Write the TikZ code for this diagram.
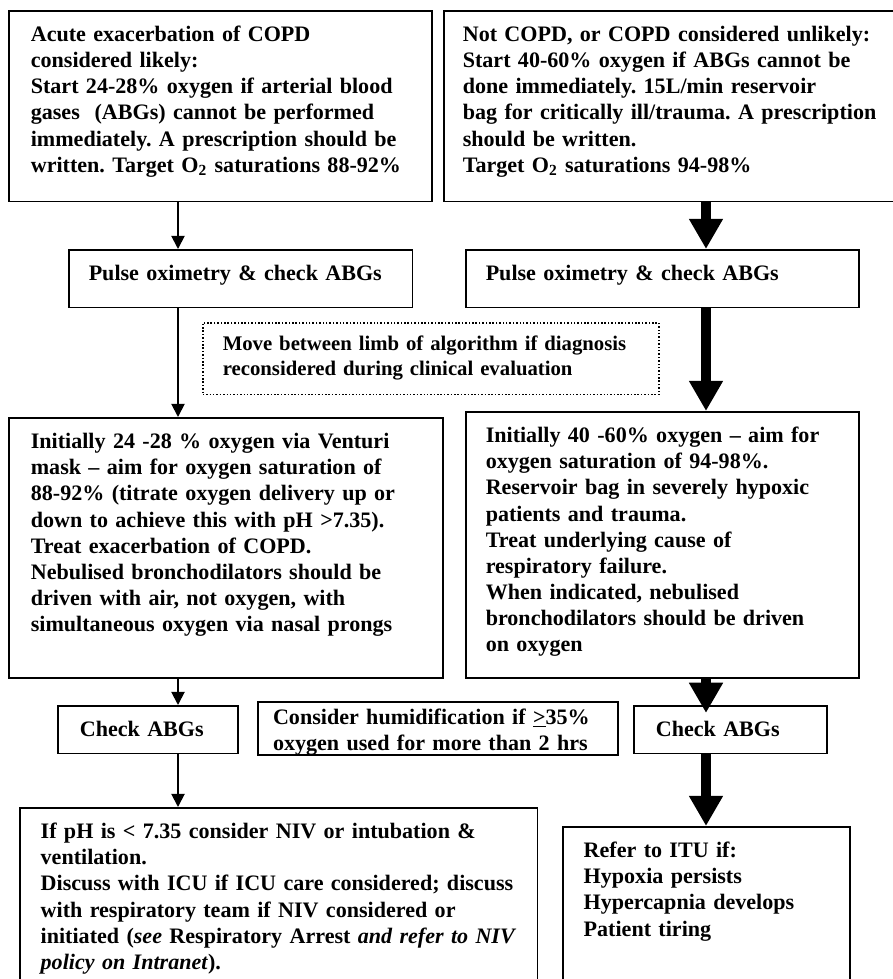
\documentclass[tikz,border=0pt]{standalone}
\usepackage{fontspec}
\setmainfont{Liberation Serif}
\usetikzlibrary{arrows.meta, positioning}
\frenchspacing
\hyphenpenalty=10000
\exhyphenpenalty=10000

\begin{document}
\begin{tikzpicture}[
    x=0.53pt, y=-0.53pt,
    box/.style={rectangle, draw, line width=0.8pt, anchor=north west, align=left, inner ysep=7.5pt, text height=9pt, font=\bfseries\fontsize{11.7}{13.8}\selectfont},
    arrow/.style={-{Triangle[width=7pt,length=7pt]}, line width=1pt},
    bigarrow/.style={-{Triangle[width=17pt,length=16pt]}, line width=5.3pt}
]
    \useasboundingbox (0,0) rectangle (893,979);
    \clip (0,0) rectangle (893,979);

    \node[box, inner xsep=11.7pt, text width=200.9pt, text depth=77.2pt] (copd) at (8,10) {Acute exacerbation of COPD\\considered likely:\\Start 24-28\% oxygen if arterial blood\\gases \ (ABGs) cannot be performed\\immediately. A prescription should be\\written. Target O\textsubscript{2} saturations 88-92\%};
    \node[box, inner xsep=10.1pt, text width=223.7pt, text depth=77.2pt] (other) at (443,10) {Not COPD, or COPD considered unlikely:\\Start 40-60\% oxygen if ABGs cannot be\\done immediately. 15L/min reservoir\\bag for critically ill/trauma. A prescription\\should be written.\\Target O\textsubscript{2} saturations 94-98\%};
    \node[box, inner xsep=10.6pt, text width=161.1pt, text depth=6.7pt] (pulsecopd) at (68,249) {Pulse oximetry \& check ABGs};
    \node[box, inner xsep=10.6pt, text width=187.1pt, text depth=6.7pt] (pulseother) at (465,249) {Pulse oximetry \& check ABGs};
    \node[box, densely dotted, inner xsep=10.6pt, inner ysep=5.8pt, text width=220.5pt, text depth=17.5pt, font=\bfseries\fontsize{11}{13.2}\selectfont] (move) at (202,322) {\mbox{Move between limb of algorithm if diagnosis}\\reconsidered during clinical evaluation};
    \node[box, inner xsep=11.7pt, text width=206.7pt, text depth=113.8pt] (treatcopd) at (8,417) {Initially 24 -28 \% oxygen via Venturi\\mask -- aim for oxygen saturation of\\88-92\% (titrate oxygen delivery up or\\down to achieve this with pH >7.35).\\Treat exacerbation of COPD.\\Nebulised bronchodilators should be\\driven with air, not oxygen, with\\simultaneous oxygen via nasal prongs};
    \node[box, inner xsep=10.6pt, text width=187.1pt, text depth=117pt] (treatother) at (465,411) {Initially 40 -60\% oxygen -- aim for\\oxygen saturation of 94-98\%.\\Reservoir bag in severely hypoxic\\patients and trauma.\\Treat underlying cause of\\respiratory failure.\\When indicated, nebulised\\bronchodilators should be driven\\on oxygen};
    \node[box, inner xsep=11.7pt, text width=72pt, text depth=1.4pt] (abgcopd) at (57,705) {Check ABGs};
    \node[box, line width=1.2pt, inner xsep=7.9pt, inner ysep=2.7pt, text width=174.9pt, text depth=13.7pt] (humid) at (257,701) {Consider humidification if \underline{>}35\%\\oxygen used for more than 2 hrs};
    \node[box, inner xsep=11.7pt, text width=79pt, text depth=1.4pt] (abgother) at (633,705) {Check ABGs};
    \node[box, inner xsep=11.1pt, text width=252.3pt, text depth=78.3pt] (niv) at (19,807) {If pH is < 7.35 consider NIV or intubation \&\\ventilation.\\Discuss with ICU if ICU care considered; discuss\\with respiratory team if NIV considered or\\initiated (\textit{see} Respiratory Arrest \textit{and refer to NIV}\\\textit{policy on Intranet}).};
    \node[box, inner xsep=11.1pt, text width=129.9pt, text depth=68.2pt] (itu) at (562,826) {Refer to ITU if:\\Hypoxia persists\\Hypercapnia develops\\Patient tiring};

    \coordinate (lcol) at (178,0);
    \coordinate (rcol) at (706,0);

    \draw[arrow] (copd.south -| lcol) -- (pulsecopd.north -| lcol);
    \draw[bigarrow] (other.south -| rcol) -- (pulseother.north -| rcol);
    \draw[arrow] (pulsecopd.south -| lcol) -- (treatcopd.north -| lcol);
    \draw[bigarrow] (pulseother.south -| rcol) -- (treatother.north -| rcol);
    \draw[arrow] (treatcopd.south -| lcol) -- (abgcopd.north -| lcol);
    \draw[bigarrow, shorten >=-4.2pt] (treatother.south -| rcol) -- (abgother.north -| rcol);
    \draw[arrow] (abgcopd.south -| lcol) -- (niv.north -| lcol);
    \draw[bigarrow] (abgother.south -| rcol) -- (itu.north -| rcol);
\end{tikzpicture}
\end{document}
